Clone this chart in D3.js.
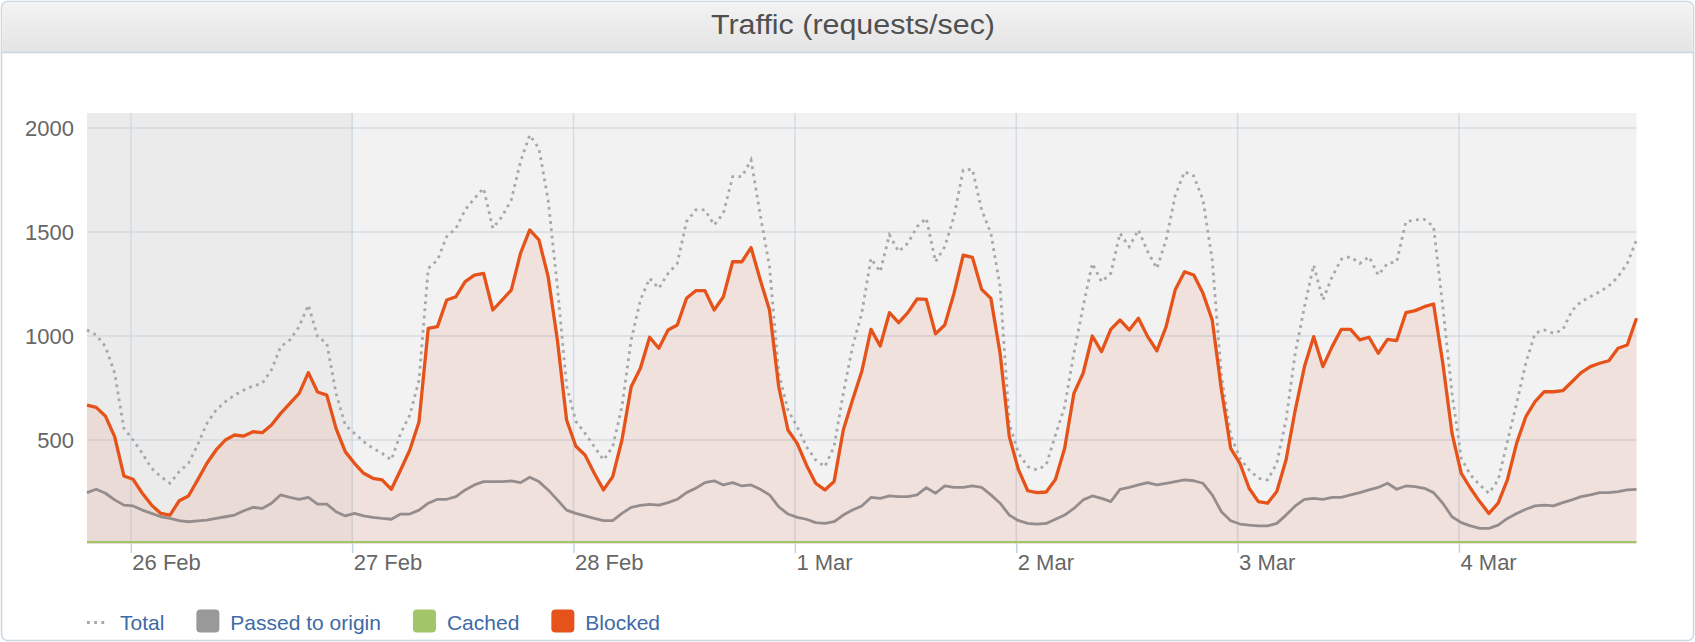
<!DOCTYPE html>
<html>
<head>
<meta charset="utf-8">
<script src="https://cdn.jsdelivr.net/npm/d3@7"></script>
<style>
  body { margin: 0; background: #fff; }
  svg { display: block; font-family: "Liberation Sans", Arial, sans-serif; }
</style>
</head>
<body>
<script>
// hourly samples, first one at 25 Feb 19:15 (UTC)
var startTime = new Date(Date.UTC(2015, 1, 25, 19, 15));

var blocked = [
  668, 657, 615, 516, 327, 311, 244, 187, 147, 139, 208, 231, 308, 388, 452, 500, 524, 519, 540, 535,
  572, 628, 676, 724, 824, 731, 716, 556, 444, 388, 340, 316, 308, 263, 356, 452, 588, 1037, 1045, 1173,
  1189, 1261, 1293, 1301, 1125, 1173, 1221, 1397, 1510, 1462, 1285, 981, 596, 470,
  428, 340, 260, 324, 500, 756, 845, 994, 941, 1029, 1053, 1181, 1218, 1218, 1125, 1189, 1357, 1357, 1425, 1269,
  1125, 756, 548, 484, 380, 292, 260, 300, 548, 692, 829, 1032, 952, 1112, 1064, 1112, 1178, 1176, 1010, 1053,
  1205, 1389, 1378, 1224, 1181, 917, 516, 356, 256, 247, 250, 310,
  460, 724, 821, 1000, 925, 1032, 1077, 1029, 1085, 997, 929, 1045, 1224, 1309, 1293, 1205, 1077, 740, 460, 388,
  268, 204, 196, 252, 404, 644, 853, 997, 853, 949, 1032, 1032, 981, 994, 917, 984, 978, 1112, 1122, 1141,
  1154, 869, 532, 340, 268, 204, 147, 196, 308, 484, 612, 684, 732, 732, 737, 780, 824, 853, 869, 881,
  941, 957, 1085
];

var total = [
  1029, 1005, 949, 821, 556, 500, 436, 364, 324, 292, 348, 388, 476, 580, 644, 684, 716, 740, 760, 772,
  837, 949, 981, 1045, 1149, 997, 965, 724, 572, 532, 492, 460, 436, 404, 532, 620, 788, 1325, 1365, 1478,
  1518, 1606, 1662, 1710, 1518, 1574, 1654, 1838, 1966, 1902, 1654, 1237, 760, 590,
  532, 468, 404, 468, 660, 981, 1173, 1277, 1229, 1301, 1349, 1550, 1606, 1606, 1534, 1590, 1766, 1766, 1846, 1582,
  1333, 821, 644, 564, 468, 404, 372, 468, 724, 949, 1109, 1373, 1309, 1486, 1406, 1446, 1526, 1566, 1357, 1429,
  1574, 1798, 1801, 1606, 1494, 1237, 580, 436, 372, 356, 380, 524,
  660, 917, 1141, 1349, 1261, 1301, 1494, 1429, 1510, 1405, 1325, 1462, 1678, 1790, 1769, 1654, 1365, 804, 524, 412,
  356, 316, 308, 388, 596, 917, 1141, 1341, 1173, 1285, 1369, 1381, 1349, 1381, 1293, 1349, 1357, 1550, 1558, 1561,
  1526, 1141, 724, 412, 332, 284, 244, 308, 492, 676, 869, 1013, 1029, 1013, 1029, 1122, 1165, 1189, 1213, 1240,
  1285, 1349, 1462
];

var passed = [
  247, 263, 244, 212, 187, 183, 163, 147, 131, 123, 112, 107, 111, 115, 123, 131, 139, 160, 176, 171,
  196, 236, 224, 215, 224, 192, 192, 155, 135, 147, 135, 128, 123, 119, 144, 144, 163, 196, 215, 215,
  228, 260, 284, 300, 300, 300, 303, 295, 321, 300, 260, 212, 163, 147,
  135, 123, 112, 112, 147, 176, 186, 191, 187, 199, 215, 247, 268, 295, 304, 284, 295, 279, 284, 263,
  236, 179, 144, 128, 119, 103, 99, 107, 139, 163, 183, 224, 219, 231, 228, 228, 236, 271, 244, 279,
  272, 272, 279, 272, 236, 196, 139, 112, 99, 96, 99, 119,
  139, 171, 212, 231, 219, 204, 263, 272, 284, 295, 284, 292, 300, 308, 304, 292, 236, 155, 112, 96,
  91, 87, 87, 99, 139, 183, 215, 219, 215, 224, 224, 236, 247, 260, 272, 292, 263, 279, 276, 268,
  247, 196, 131, 103, 87, 75, 75, 91, 123, 147, 167, 183, 187, 183, 199, 212, 228, 236, 247, 247,
  252, 260, 263
];

var cached = [
  10, 10, 10, 10, 10, 10, 10, 10, 10, 10, 10, 10, 10, 10, 10, 10, 10, 10, 10, 10,
  10, 10, 10, 10, 10, 10, 10, 10, 10, 10, 10, 10, 10, 10, 10, 10, 10, 10, 10, 10,
  10, 10, 10, 10, 10, 10, 10, 10, 10, 10, 10, 10, 10, 10,
  10, 10, 10, 10, 10, 10, 10, 10, 10, 10, 10, 10, 10, 10, 10, 10, 10, 10, 10, 10,
  10, 10, 10, 10, 10, 10, 10, 10, 10, 10, 10, 10, 10, 10, 10, 10, 10, 10, 10, 10,
  10, 10, 10, 10, 10, 10, 10, 10, 10, 10, 10, 10,
  10, 10, 10, 10, 10, 10, 10, 10, 10, 10, 10, 10, 10, 10, 10, 10, 10, 10, 10, 10,
  10, 10, 10, 10, 10, 10, 10, 10, 10, 10, 10, 10, 10, 10, 10, 10, 10, 10, 10, 10,
  10, 10, 10, 10, 10, 10, 10, 10, 10, 10, 10, 10, 10, 10, 10, 10, 10, 10, 10, 10,
  10, 10, 10
];

var legendNames = ["Total", "Passed to origin", "Cached", "Blocked"];
var colors = { total: "#a8a8a8", passed: "#999999", cached: "#a2c567", blocked: "#e5531a" };
var yTicks = [500, 1000, 1500, 2000];
var bandEnd = new Date(Date.UTC(2015, 1, 27));

var options = { width: 1695, height: 642 };
var plot = { left: 87, right: 1636.5, top: 113, bottom: 544 };

var times = total.map(function(d, i) { return d3.utcHour.offset(startTime, i); });

var x = d3.scaleUtc()
  .domain([times[0], times[times.length - 1]])
  .range([plot.left, plot.right]);

var y = d3.scaleLinear()
  .domain([0, 2000])
  .range([plot.bottom, 128]);

var svg = d3.select("body").append("svg")
  .attr("width", options.width)
  .attr("height", options.height);

var defs = svg.append("defs");
var grad = defs.append("linearGradient").attr("id", "head").attr("x1", 0).attr("y1", 0).attr("x2", 0).attr("y2", 1);
grad.append("stop").attr("offset", "0%").attr("stop-color", "#f3f3f3");
grad.append("stop").attr("offset", "100%").attr("stop-color", "#e4e4e4");

// panel + header
svg.append("rect")
  .attr("x", 1.5).attr("y", 1.5)
  .attr("width", options.width - 3).attr("height", options.height - 3)
  .attr("rx", 6)
  .attr("fill", "#fff")
  .attr("stroke", "#c9d7e4")
  .attr("stroke-width", 1.5);

svg.append("path")
  .attr("d", "M2.5,52 L2.5,8 Q2.5,2.5 8,2.5 L" + (options.width - 8) + ",2.5 Q" + (options.width - 2.5) + ",2.5 " + (options.width - 2.5) + ",8 L" + (options.width - 2.5) + ",52 Z")
  .attr("fill", "url(#head)");

svg.append("line")
  .attr("x1", 2).attr("x2", options.width - 2)
  .attr("y1", 52.5).attr("y2", 52.5)
  .attr("stroke", "#c8d4de")
  .attr("stroke-width", 1.5);

svg.append("text")
  .attr("x", 853).attr("y", 34)
  .attr("text-anchor", "middle")
  .attr("font-size", 27)
  .attr("fill", "#505050")
  .attr("textLength", 284)
  .attr("lengthAdjust", "spacingAndGlyphs")
  .text("Traffic (requests/sec)");

// plot background
svg.append("rect")
  .attr("x", plot.left).attr("y", plot.top)
  .attr("width", plot.right - plot.left).attr("height", plot.bottom - plot.top)
  .attr("fill", "#f2f2f2");

svg.append("rect")
  .attr("x", plot.left).attr("y", plot.top)
  .attr("width", x(bandEnd) - plot.left).attr("height", plot.bottom - plot.top)
  .attr("fill", "#ebebeb");

// grid
var dayTicks = x.ticks(d3.utcDay.every(1));

svg.append("g").selectAll("line.h")
  .data(yTicks)
  .enter().append("line")
  .attr("x1", plot.left).attr("x2", plot.right)
  .attr("y1", function(d) { return y(d); })
  .attr("y2", function(d) { return y(d); })
  .attr("stroke", "#d2dbe3")
  .attr("stroke-width", 1.5);

svg.append("g").selectAll("line.v")
  .data(dayTicks)
  .enter().append("line")
  .attr("x1", function(d) { return x(d); })
  .attr("x2", function(d) { return x(d); })
  .attr("y1", plot.top).attr("y2", plot.bottom)
  .attr("stroke", "#d2dbe3")
  .attr("stroke-width", 1.5);

// axes
var xAxis = svg.append("g")
  .attr("transform", "translate(0," + plot.bottom + ")")
  .call(d3.axisBottom(x).ticks(d3.utcDay.every(1)).tickFormat(d3.utcFormat("%-d %b")).tickSize(9));
xAxis.select(".domain").remove();
xAxis.selectAll("line").attr("stroke", "#c6d3de").attr("stroke-width", 1.5);
xAxis.selectAll("text")
  .attr("text-anchor", "start")
  .attr("x", 1)
  .attr("y", 10)
  .attr("font-size", 22)
  .attr("fill", "#666");

var yAxis = svg.append("g")
  .attr("transform", "translate(" + plot.left + ",0)")
  .call(d3.axisLeft(y).tickValues(yTicks).tickFormat(d3.format("d")).tickSize(0).tickPadding(13));
yAxis.select(".domain").remove();
yAxis.selectAll("text")
  .attr("font-size", 22)
  .attr("fill", "#666");

// series
var area = d3.area()
  .x(function(d, i) { return x(times[i]); })
  .y0(y(0))
  .y1(function(d) { return y(d); });

var line = d3.line()
  .x(function(d, i) { return x(times[i]); })
  .y(function(d) { return y(d); });

svg.append("path")
  .datum(blocked)
  .attr("d", area)
  .attr("fill", colors.blocked)
  .attr("fill-opacity", 0.1);

svg.append("path")
  .datum(cached)
  .attr("d", line)
  .attr("fill", "none")
  .attr("stroke", colors.cached)
  .attr("stroke-width", 2);

svg.append("path")
  .datum(passed)
  .attr("d", line)
  .attr("fill", "none")
  .attr("stroke", "#958d8d")
  .attr("stroke-width", 2.8)
  .attr("stroke-linejoin", "round");

svg.append("path")
  .datum(total)
  .attr("d", line)
  .attr("fill", "none")
  .attr("stroke", colors.total)
  .attr("stroke-width", 2.8)
  .attr("stroke-dasharray", "2.8,4.4");

svg.append("path")
  .datum(blocked)
  .attr("d", line)
  .attr("fill", "none")
  .attr("stroke", colors.blocked)
  .attr("stroke-width", 3.3)
  .attr("stroke-linejoin", "round");

// legend
var legend = svg.append("g").attr("font-size", 21);
var lx = 87;
var legendKeys = ["total", "passed", "cached", "blocked"];
legendNames.forEach(function(name, i) {
  var key = legendKeys[i];
  if (key === "total") {
    legend.append("line")
      .attr("x1", lx).attr("x2", lx + 21)
      .attr("y1", 622.5).attr("y2", 622.5)
      .attr("stroke", colors.total)
      .attr("stroke-width", 2.8)
      .attr("stroke-dasharray", "2.8,4.4");
  } else {
    legend.append("rect")
      .attr("x", lx).attr("y", 609.5)
      .attr("width", 23).attr("height", 23)
      .attr("rx", 4)
      .attr("fill", colors[key]);
  }
  var t = legend.append("text")
    .attr("x", lx + (key === "total" ? 33 : 34))
    .attr("y", 630)
    .attr("fill", "#3e6aa6")
    .text(name);
  lx = lx + (key === "total" ? 33 : 34) + t.node().getComputedTextLength() + 32;
});
</script>
</body>
</html>
